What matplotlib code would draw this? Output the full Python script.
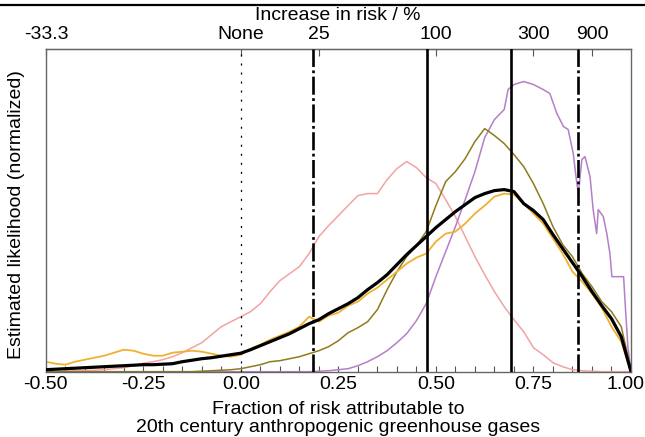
import matplotlib
matplotlib.use("Agg")
import matplotlib.pyplot as plt
from matplotlib.lines import Line2D
from matplotlib.ticker import MultipleLocator, NullLocator
from matplotlib.transforms import ScaledTranslation

plt.rcParams['font.family'] = ['Liberation Sans', 'DejaVu Sans']
plt.rcParams['lines.scale_dashes'] = False

# ---------------- data ----------------
x_grid = [-0.5, -0.475, -0.45, -0.425, -0.4, -0.375, -0.35, -0.325, -0.3, -0.275,
          -0.25, -0.225, -0.2, -0.175, -0.15, -0.125, -0.1, -0.075, -0.05, -0.025,
          0.0, 0.025, 0.05, 0.075, 0.1, 0.125, 0.15, 0.175, 0.2, 0.225,
          0.25, 0.275, 0.3, 0.325, 0.35, 0.375, 0.4, 0.425, 0.45, 0.475,
          0.5, 0.525, 0.55, 0.575, 0.6, 0.625, 0.65, 0.675, 0.7, 0.725,
          0.75, 0.775, 0.8, 0.825, 0.85, 0.875, 0.9, 0.925, 0.95, 0.975, 1.0]

pink = [0, 0, 0.5, 1, 1, 1.5, 2, 3, 4, 6,
        8.5, 10, 12, 15, 19, 24, 29, 37, 45, 50,
        55, 60, 68, 80, 91, 98, 105, 118, 135, 146,
        156, 166, 176, 178, 178, 192, 203, 210, 204, 194,
        188, 172, 155, 135, 115, 97, 80, 65, 52, 40,
        24, 17, 9, 5, 2, 1, 0.5, 0, 0, 0, 0]

olive = [0, 0, 0, 0, 0, 0, 0, 0, 0, 0,
         0, 0, 0, 0, 0, 0, 0.5, 1, 1.5, 2,
         3, 5, 7, 10, 11, 13, 15, 18, 21, 25,
         31, 39, 44, 50, 62, 82, 100, 115, 126, 140,
         166, 190, 200, 213, 230, 243, 236, 228, 217, 205,
         188, 168, 145, 127, 115, 98, 85, 70, 60, 45, 2]

orange = [10, 8, 7, 10, 12, 14, 16, 19, 22, 21,
          18, 16, 16, 19, 20, 21, 20, 18, 16, 15,
          17, 23, 27, 32, 36, 40, 45, 55, 50, 56,
          59, 66, 70, 78, 84, 92, 100, 108, 114, 118,
          130, 138, 140, 148, 158, 166, 175, 178, 177, 168,
          158, 148, 133, 118, 100, 90, 78, 64, 45, 30, 0]

black = [2, 2.5, 3, 3.5, 4, 4.5, 5, 5.5, 6, 6.5,
         7, 7, 7.5, 8, 10, 11.5, 13, 14, 15.5, 17,
         18.5, 22, 26, 30, 34, 38, 43, 48, 52, 58,
         63, 68, 74, 82, 89, 97, 107, 117, 126, 135,
         144, 152, 160, 167, 174, 178, 181, 182, 180, 168,
         161, 152, 137, 123, 109, 95, 80, 66, 53, 35, 0]

purple_x = [-0.5, 0.175, 0.2, 0.225, 0.25, 0.275, 0.3, 0.325, 0.35, 0.375,
            0.4, 0.425, 0.45, 0.475, 0.5, 0.525, 0.55, 0.575, 0.6, 0.625,
            0.65, 0.675, 0.685, 0.7, 0.725, 0.75, 0.775, 0.792, 0.81, 0.827,
            0.839, 0.852, 0.859, 0.865, 0.874, 0.882, 0.895, 0.903, 0.912, 0.916,
            0.929, 0.938, 0.946, 0.951, 0.981, 0.986, 0.992, 1.0]
purple = [0, 0, 0.5, 1, 2, 3, 6, 10, 15, 21,
          29, 38, 51, 68, 95, 120, 145, 172, 200, 234,
          252, 262, 282, 287, 290, 287, 282, 278, 258, 245,
          242, 218, 195, 178, 212, 215, 195, 162, 138, 162,
          155, 138, 118, 95, 95, 62, 25, 0]

top_pct = [-33.3, 0, 25, 100, 300, 900]
top_labels = ['-33.3', 'None', '25', '100', '300', '900']

bottom_ticks = [-0.5, -0.25, 0.0, 0.25, 0.5, 0.75, 1.0]
bottom_labels = ['-0.50', '-0.25', '0.00', '0.25', '0.50', '0.75', '1.00']

vlines_x = [0.0, 0.185, 0.477, 0.692, 0.865]
vlines_style = ['dot', 'dashdot', 'solid', 'solid', 'dashdot']

# ---------------- figure ----------------
fig = plt.figure(figsize=(6.45, 4.37), dpi=100)
ax = fig.add_axes([0.0709, 0.1494, 0.9074, 0.7396])

ax.plot(x_grid, pink, color='#f2a3a3', lw=1.1, zorder=2)
ax.plot(purple_x, purple, color='#b47fc8', lw=1.1, zorder=2)
ax.plot(x_grid, olive, color='#8e7b1c', lw=1.1, zorder=2)
ax.plot(x_grid, orange, color='#f0b030', lw=1.3, zorder=2)
ax.plot(x_grid, black, color='black', lw=2.3, zorder=3)

for xv, st in zip(vlines_x, vlines_style):
    if st == 'dot':
        ax.axvline(xv, color='black', lw=0.9, dashes=(1.5, 5.0), zorder=4)
    elif st == 'dashdot':
        ax.axvline(xv, color='black', lw=1.9, dashes=(13, 2.5, 2, 2.5), zorder=4)
    else:
        ax.axvline(xv, color='black', lw=1.9, zorder=4)

ax.set_xlim(-0.5, 1.0)
ax.set_ylim(0, 323)
ax.xaxis.set_minor_locator(MultipleLocator(0.05))
ax.yaxis.set_major_locator(NullLocator())
ax.set_xticks(bottom_ticks)
ax.set_xticklabels(bottom_labels)
ax.tick_params(axis='x', which='both', direction='in', length=4, width=0.8,
               color='#555555', labelsize=14, pad=3)

for sp in ax.spines.values():
    sp.set_color('#666666')
    sp.set_linewidth(1.0)

# keep the last bottom label inside the canvas
last = ax.get_xticklabels()[-1]
last.set_transform(last.get_transform() + ScaledTranslation(-6 / 100, 0, fig.dpi_scale_trans))

# top axis: increase in risk
top_pos = [1 - 1 / (1 + p / 100.0) for p in top_pct]
sec = ax.secondary_xaxis('top')
sec.set_xticks(top_pos)
sec.set_xticklabels(top_labels)
sec.tick_params(axis='x', direction='in', length=5, width=0.8, color='#555555',
                labelsize=14, pad=4)
sec.xaxis.set_minor_locator(NullLocator())

fig.text(338 / 645, 1 - 15 / 437, 'Increase in risk / %', ha='center', va='center', fontsize=14)
fig.text(338 / 645, 1 - 410 / 437, 'Fraction of risk attributable to', ha='center', va='center', fontsize=14)
fig.text(338 / 645, 1 - 427 / 437, '20th century anthropogenic greenhouse gases', ha='center', va='center', fontsize=14)
fig.text(17 / 645, 1 - 215 / 437, 'Estimated likelihood (normalized)', ha='center', va='center',
         rotation=90, fontsize=14)

fig.add_artist(Line2D([0, 1], [1 - 4.5 / 437, 1 - 4.5 / 437], transform=fig.transFigure,
                      color='black', lw=1.6))

fig.savefig('out.png', dpi=100)
